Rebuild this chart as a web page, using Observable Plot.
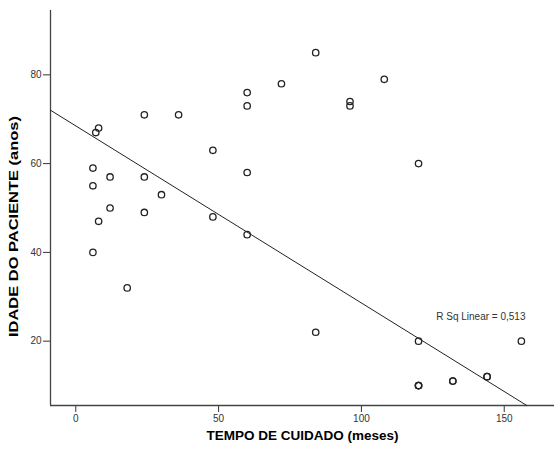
<!DOCTYPE html>
<html>
<head>
<meta charset="utf-8">
<script src="https://cdn.jsdelivr.net/npm/d3@7"></script>
<script src="https://cdn.jsdelivr.net/npm/@observablehq/plot@0.6"></script>
<style>
  html, body { margin: 0; padding: 0; background: #fff; }
  #chart svg { display: block; }
</style>
</head>
<body>
<div id="chart"></div>
<script>
// Data
const meses = [6, 6, 6, 7, 8, 8, 12, 12, 18, 24, 24, 24, 30, 36, 48, 48, 60, 60, 60, 60, 72, 84, 84, 96, 96, 108, 120, 120, 120, 120, 120, 132, 132, 144, 144, 156];
const idade = [40, 55, 59, 67, 68, 47, 57, 50, 32, 71, 57, 49, 53, 71, 63, 48, 76, 73, 58, 44, 78, 85, 22, 74, 73, 79, 60, 20, 10, 10, 10, 11, 11, 12, 12, 20];

const xTicks = [0, 50, 100, 150];
const yTicks = [20, 40, 60, 80];
const xDomain = [-8.85, 167.6];
const yDomain = [5.5, 94.5];

const fitIntercept = 68.5;
const fitSlope = -0.399;
const rSqLabel = [{x: 126.2, y: 25.4, text: "R Sq Linear = 0,513"}];

const xTitle = "TEMPO DE CUIDADO (meses)";
const yTitle = "IDADE DO PACIENTE (anos)";

const points = meses.map((m, i) => ({meses: m, idade: idade[i]}));
const fitLine = [
  {x: xDomain[0], y: fitIntercept + fitSlope * xDomain[0]},
  {x: (yDomain[0] - fitIntercept) / fitSlope, y: yDomain[0]}
];

const plot = Plot.plot({
  width: 554,
  height: 449,
  marginLeft: 50,
  marginRight: 0,
  marginTop: 10,
  marginBottom: 44,
  style: {background: "#fff", fontFamily: "'Liberation Sans', Arial, sans-serif", color: "#333"},
  x: {domain: xDomain, label: null},
  y: {domain: yDomain, label: null},
  marks: [
    Plot.axisX({ticks: xTicks, tickSize: 7, tickPadding: 2, fontSize: 10, label: null, tickFormat: d => d}),
    Plot.axisY({ticks: yTicks, tickSize: 7, tickPadding: 2, fontSize: 10, label: null, tickFormat: d => d}),
    Plot.ruleY([yDomain[0]], {stroke: "#444", strokeWidth: 1.3}),
    Plot.ruleX([xDomain[0]], {stroke: "#444", strokeWidth: 1.3}),
    Plot.line(fitLine, {x: "x", y: "y", stroke: "#222", strokeWidth: 1}),
    Plot.dot(points, {x: "meses", y: "idade", r: 3.2, stroke: "#222", strokeWidth: 1.3, fill: "none"}),
    Plot.text(rSqLabel, {x: "x", y: "y", text: "text", textAnchor: "start", fontSize: 10, fill: "#333"}),
    Plot.text([xTitle], {frameAnchor: "bottom", dy: 34, text: d => d, fontSize: 13.5, fontWeight: "bold", fill: "#000"}),
    Plot.text([yTitle], {frameAnchor: "left", dx: -36.5, dy: 129, rotate: -90, textAnchor: "start", text: d => d, fontSize: 13, fontWeight: "bold", fill: "#000", className: "ytitle"})
  ]
});

document.getElementById("chart").appendChild(plot);
// stretch y title along its length to match reference
d3.select(plot).selectAll(".ytitle text").attr("textLength", 221).attr("lengthAdjust", "spacingAndGlyphs");
</script>
</body>
</html>
